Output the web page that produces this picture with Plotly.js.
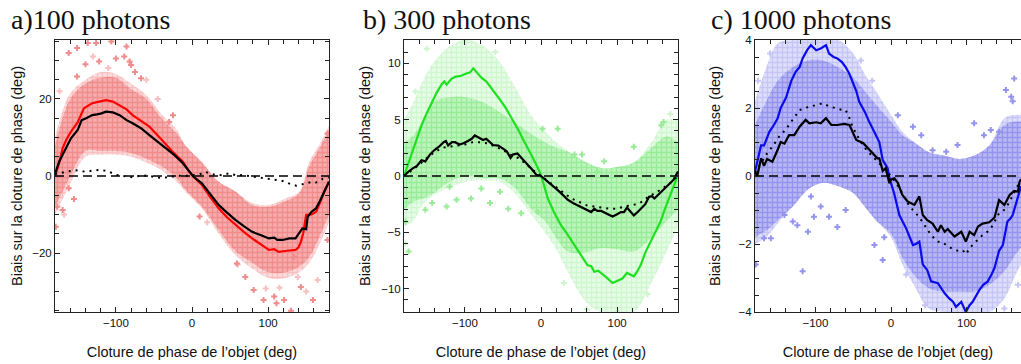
<!DOCTYPE html>
<html>
<head>
<meta charset="utf-8">
<script src="https://cdn.plot.ly/plotly-3.0.1.min.js"></script>
<style>html,body{margin:0;padding:0;background:#fff;}#chart{width:1021px;height:364px;}</style>
</head>
<body>
<div id="chart"></div>
<script>
// ---------- Panel a : 100 photons ----------
const aBandX   = [-180,-170,-160,-140,-120,-100,-80,-60,-40,-20,-9,13,35,57,79,101,123,141,154,167,180];
const aLightLo = [-10,-6,-2,5,5.5,5.5,5,3.5,1.5,-1.5,-4,-8.4,-15,-20.5,-24,-26.5,-26.5,-25,-22.5,-18,-12];
const aLightHi = [10,17,21.5,25,27,26.5,24,21,16,12,8,3.7,-1.5,-4,-7,-7.5,-5.8,-4,3.7,8,13];
const aDarkLo  = [-8,-4,0,6.5,6.5,6.5,6,4.5,2.5,-0.5,-3.5,-8,-14,-19.5,-22.5,-25,-25,-23.5,-21,-16,-10];
const aDarkHi  = [8,15,20,24,25.5,25.5,22.5,20,15,11,8,3.5,-1.5,-4,-7.5,-8,-6.5,-4.5,2.5,7,12];
const aOutX  = [-162,-151,-137,-126,-122,-106,-89,-80,-67,-151,-86,-82,-162,-177,-170,-179,59,70,81,94,108,111,121,130,143,159,178,178,134,-140,-100,-75,-30,-155,-25,10];
const aOutY  = [31.9,33.2,34.5,34.5,29.7,34.9,31,28.8,25.4,25.8,33.6,29.7,-3.2,-8,-8.8,-13.2,-22.7,-26.2,-29.6,-32.2,-31.3,-33,-32.2,-35,-28.8,-32.2,-16.6,11,-21,29,30.5,27,14,-6,15.8,-10.5];
const aOutLX = [139,97,-130,-110,165,150,115,-174,-60,-45,20,60,-168];
const aOutLY = [-26.2,-29.2,31,28,-27,-30,-29,22,25,20,-12,-23,-10];
const aRedX  = [-180,-175,-170,-165,-159,-150,-142,-131,-122,-113,-104,-95,-86,-78,-67,-56,-45,-34,-23,-12,-4,2,13,24,35,46,57,68,79,90,101,108,114,125,136,140,143,146,150,157,163,168,172,176,180];
const aRedY  = [0,3,7.2,9.5,11.5,14,17.6,18.9,19.3,19.7,19.3,18.4,17.3,15.8,14.3,12.8,10.5,8.1,5.8,3.7,1.2,-0.2,-2.3,-5.5,-8.4,-10.7,-12.7,-14.5,-16.2,-17.8,-19.2,-19,-19.7,-19.4,-19.2,-18.5,-17.1,-15,-10.1,-10,-9.3,-7,-4.9,-3,-1.5];
const aBlkX  = [-180,-175,-170,-165,-159,-150,-145,-139,-131,-125,-120,-113,-104,-95,-86,-78,-67,-56,-45,-34,-23,-12,-4,2,13,24,35,46,57,68,79,90,101,108,112,119,128,136,140,145,150,152,157,163,168,172,176,180];
const aBlkY  = [0.5,3.5,5.5,7.5,9.8,12,14.5,15,15.8,16,16.2,16.7,16.5,15.8,14.5,13.7,12.4,10.6,8.8,7.2,5.4,3.3,1.2,-0.2,-1.9,-4.6,-7.5,-9.5,-11.4,-13,-14.5,-15.3,-16.2,-16,-16.6,-16.6,-16.2,-16.2,-15,-13.6,-13.8,-10.6,-9.3,-8.4,-6.5,-4.9,-3,-1.5];
const aDotX  = [-180,-170,-160,-153,-140,-130,-120,-110,-100,-90,-80,-70,-60,-50,-40,-30,-20,-10,0,10,17,30,40,48,60,66,79,94,108,119,132,137,150,158,163,172,180];
const aDotY  = [0.5,1,1.3,1.5,1.1,1.4,1.6,1.2,0.3,0,-0.3,0,0.1,-0.2,-0.5,-0.3,0.1,0,0.2,0.4,1.1,0.3,0.2,0.7,0.1,0.26,-0.1,-0.6,-1,-1.3,-2.3,-2.5,-1.9,-1.5,-1.7,-0.7,-0.3];

// ---------- Panel b : 300 photons ----------
const bBandX   = [-180,-168,-155,-141,-120,-98,-75,-55,-35,-12,5,20,35,57,79,100,122,145,165,180];
const bLightLo = [-4.5,-4,-2.5,-1.7,-1,-0.5,-0.4,-0.5,-1.5,-3.5,-5,-6.5,-8.5,-11,-12.1,-12.1,-12.1,-9.5,-6.7,-4.5];
const bLightHi = [5,6.5,8.5,10.1,11.5,12.1,11.5,10.2,8,5.3,4,3,2.2,1.3,0.7,0.8,1.2,3,5,5];
const bDarkLo  = [-3,-2.3,-2,-1.5,-0.5,0,-0.2,-0.2,-1,-3,-4,-5.5,-6.7,-6.8,-6.4,-6.5,-6.7,-5.5,-4,-3];
const bDarkHi  = [3,3.6,5,6.6,7,7,6.5,5.7,4.8,3.7,3,2.5,2.2,1.3,0.7,0.8,1.2,2.5,3.5,3];
const bOutX  = [-174,-178,-152,-143,-124,-120,-111,-92,-78.5,-67,-54,-43,-4,161,122,83,44,54,74,2,22,158,-26];
const bOutY  = [-6.7,-4.05,-3,-2.4,-2.7,-0.95,-2.1,-2,-1.1,-2.4,-1.4,-2.9,-3.2,4.8,2.6,1.3,1.9,1.9,0.4,4.2,4.2,4.5,-3.3];
const bOutLX = [-150,-100,60,100,-178,-165,-60,170,30,140];
const bOutLY = [11.3,12,-11.8,-12,-6,7.5,11,5.5,-9.5,-10.5];
const bGrnX  = [-180,-174,-168,-162,-157,-150,-143,-137,-130,-127,-124,-118,-113,-105,-98,-93,-89,-83,-78,-72,-65,-59,-52,-46,-40,-35,-29,-24,-18,-13,-7,-2,3,9,17,26,35,44,52,61,66,70,75,79,86,94,100,107,113,118,122,127,131,137,144,150,157,163,170,175,180];
const bGrnY  = [0,1.2,2.5,3.5,4.5,5.6,6.6,7.4,8.2,8.4,8.1,8.6,8.8,8.9,9.1,9.2,9.55,9.1,8.7,8.4,7.8,7.2,6.6,6,5.3,4.7,4,3.3,2.6,1.9,1.1,0.4,-0.6,-2,-3.2,-4.35,-5.2,-6.1,-7,-7.9,-8,-8.5,-8.4,-8.6,-9,-9.5,-9.3,-9.1,-8.6,-8.8,-8.9,-8.4,-7.9,-6.8,-5.8,-4.9,-4.05,-2.9,-1.7,-0.8,0.1];
const bBlkX  = [-180,-174,-168,-163,-157,-152,-146,-140,-134,-128,-125,-122,-117,-113,-107,-102,-96,-91,-87,-82,-76,-72,-67,-63,-56,-50,-45,-40,-37,-31,-25,-19,-12,-6,0,9,15,22,29,35,42,48,56,61,66,70,74,79,86,94,100,105,109,113,118,122,127,131,137,142,146,149,155,161,167,174,180];
const bBlkY  = [0,0.4,0.7,0.9,1.4,1.3,1.9,2.3,2.6,3,3.1,2.7,3,3,2.8,2.9,3.1,3.3,3.6,3.4,3.2,3.3,3,2.75,2.7,2.45,2.2,1.6,1.9,2,1.5,1.1,0.6,0.1,0,-0.5,-0.8,-1.25,-1.7,-2.1,-2.4,-2.6,-2.9,-3.1,-3.2,-2.9,-3.1,-3.1,-3.3,-3.6,-3.4,-3.2,-3.2,-2.8,-3.2,-3.5,-3.2,-2.95,-2.5,-1.85,-1.8,-2,-1.6,-1.25,-0.8,-0.35,0.4];
const bDotX  = [-180,-170,-160,-150,-140,-130,-120,-110,-100,-90,-80,-70,-60,-50,-40,-30,-20,-10,0,10,20,30,40,50,60,70,80,90,100,110,120,130,140,150,160,170,180];
const bDotY  = [0,0.5,1,1.6,2.1,2.5,2.6,2.7,2.8,3,3,2.9,2.6,2.3,1.9,1.6,1.1,0.5,0,-0.5,-1,-1.5,-2,-2.3,-2.6,-2.7,-2.8,-2.9,-2.9,-2.7,-2.6,-2.4,-1.9,-1.5,-1.1,-0.6,0];

// ---------- Panel c : 1000 photons ----------
const cBandX   = [-180,-165,-150,-130,-110,-90,-70,-50,-35,-20,0,15,30,50,70,90,110,130,150,165,172];
const cLightLo = [-2,-1.8,-1.4,-0.9,-0.4,-0.2,-0.3,-0.5,-0.9,-1.3,-1.8,-2.6,-3.2,-3.9,-4,-4,-4,-4,-3.6,-2.9,-2.6];
const cLightHi = [2.2,3.2,3.9,4,4,4,4,3.6,3,2.5,1.8,1.3,1,0.7,0.6,0.5,0.6,0.9,1.7,1.8,1.8];
const cDarkLo  = [-1.8,-1.6,-1.3,-0.9,-0.4,-0.2,-0.3,-0.5,-0.9,-1.3,-1.7,-2.4,-2.9,-3.3,-3.4,-3.4,-3.4,-3.2,-2.8,-2.3,-2.1];
const cDarkHi  = [1.5,2.2,2.8,3.2,3.4,3.4,3.2,2.9,2.5,2.1,1.6,1.2,1,0.7,0.6,0.5,0.6,0.9,1.5,1.6,1.6];
const cOutX  = [-117,-110,-102,-93,-82,-71,-130,-124,-141,-22,-11,-9,-159,-168,-179,163,152,161,110,123,132,88,73,29,9,40,55,159,143,-60,-106];
const cOutY  = [-2.8,-1.64,-1.2,-0.9,-1.2,-1.5,-1.34,-1.45,-1.15,-2.03,-2.47,-1.8,-1.83,-1.83,-2.6,2.87,2.53,2.2,1.55,1.2,1.35,0.91,0.71,1.45,1.79,1.2,0.76,2.33,1.3,-1,-0.6];
const cOutLX = [-176,-160,-40,-25,20,45,150,168];
const cOutLY = [2.8,3.6,3.4,2.8,-2.9,-3.8,-3.9,-3.2];
const cBluX  = [-180,-176,-172,-168,-161,-155,-150,-146,-139,-132,-126,-121,-117,-111,-106,-99,-93,-86,-82,-76,-71,-65,-60,-55,-51,-46,-42,-35,-29,-20,-15.5,-11,-4.5,-2,4,11,20,29,33,37.5,42,48,53,62,66,71,77,82,86,90,93,99,104,108,113,117,122,128,133,137,143,148,154,158,161,166,170,172];
const cBluY  = [0.13,0.5,0.9,0.9,1.3,1.5,1.7,2,2.3,2.8,3.07,3.2,3.46,3.7,3.85,3.7,3.75,3.85,3.6,3.5,3.46,3.35,3.2,3,2.77,2.5,2.18,1.9,1.6,1.2,1,0.47,0.23,-0.07,-0.5,-1.15,-1.54,-2.03,-2,-1.93,-2.6,-2.77,-3.1,-3.15,-3.3,-3.45,-3.6,-3.7,-3.85,-3.75,-3.7,-4,-3.8,-3.7,-3.5,-3.35,-3.2,-3.1,-2.9,-2.7,-2.2,-2.03,-1.34,-1.25,-1.15,-0.8,-0.46,-0.3];
const cBlkX  = [-180,-177,-172,-168,-164,-157,-150,-146,-141,-135,-128,-121,-113,-108,-99,-93,-86,-79,-71,-62,-55,-46,-37,-29,-18,-15.5,-11,-7,-2.2,0,4.4,9,15,22,31,37.5,42,48,55,62,66,71,75,84,93,99,104,110,115,121,130,137,143,150,157,163,168,170,172];
const cBlkY  = [0.13,0,0.52,0.3,0.5,0.42,0.77,1,0.95,1.2,1.2,1.45,1.65,1.55,1.58,1.55,1.7,1.5,1.5,1.53,1.5,1.06,0.97,0.77,0.52,0.52,0.15,0.23,-0.21,-0.1,-0.07,-0.2,-0.56,-0.75,-0.85,-0.6,-1.15,-1.3,-1.4,-1.64,-1.45,-1.64,-1.56,-1.78,-1.64,-1.93,-1.64,-1.74,-1.49,-1.4,-1.36,-1.22,-0.71,-0.85,-0.56,-0.44,-0.46,-0.17,-0.1];
const cDotX  = [-180,-170,-163,-157,-148,-140,-135,-128,-121,-114,-108,-99,-90,-82,-73,-66,-60,-55,-51,-45,-40,-32,-24,-16,-8,0,8,16,22,29,35,42,48,53,62,68,73,78,84,90,95,99,105,110,116,121,127,132,137,141,147,152,157,161,165,168,172];
const cDotY  = [0.1,0.47,0.7,0.86,1.16,1.35,1.5,1.7,1.94,2,2.04,2.1,2.14,2.05,1.99,1.95,1.94,1.7,1.45,1.2,1,0.75,0.57,0.4,0.2,0,-0.25,-0.55,-0.8,-1,-1.15,-1.36,-1.55,-1.74,-1.93,-1.95,-2.03,-2.1,-2.18,-2.2,-2.18,-2.3,-2.1,-1.98,-1.85,-1.74,-1.65,-1.54,-1.35,-1.15,-1.05,-0.95,-0.75,-0.56,-0.4,-0.27,-0.1];

// ---------- labels ----------
const panelTitles = ['a)100 photons', 'b) 300 photons', 'c) 1000 photons'];
const xTitle = 'Cloture de phase de l’objet (deg)';
const yTitle = 'Biais sur la cloture de phase (deg)';

const W = 1021, H = 364;
const panels = [
  {ax:'',  bandX:aBandX, lLo:aLightLo, lHi:aLightHi, dLo:aDarkLo, dHi:aDarkHi, outX:aOutX, outY:aOutY, outLX:aOutLX, outLY:aOutLY,
   colX:aRedX, colY:aRedY, blkX:aBlkX, blkY:aBlkY, dotX:aDotX, dotY:aDotY,
   light:'#fcdcdc', lightFg:'#f8c0c0', dark:'#f6acac', darkFg:'#f08c8c', line:'#ff0000', xEnd:180},
  {ax:'2', bandX:bBandX, lLo:bLightLo, lHi:bLightHi, dLo:bDarkLo, dHi:bDarkHi, outX:bOutX, outY:bOutY, outLX:bOutLX, outLY:bOutLY,
   colX:bGrnX, colY:bGrnY, blkX:bBlkX, blkY:bBlkY, dotX:bDotX, dotY:bDotY,
   light:'#e8fbe8', lightFg:'#cef7ce', dark:'#bff4bf', darkFg:'#98ec98', line:'#1ee01e', xEnd:180},
  {ax:'3', bandX:cBandX, lLo:cLightLo, lHi:cLightHi, dLo:cDarkLo, dHi:cDarkHi, outX:cOutX, outY:cOutY, outLX:cOutLX, outLY:cOutLY,
   colX:cBluX, colY:cBluY, blkX:cBlkX, blkY:cBlkY, dotX:cDotX, dotY:cDotY,
   light:'#dedefa', lightFg:'#c6c6f6', dark:'#b8b8f4', darkFg:'#9494ee', line:'#0a0aee', xEnd:172}
];

const traces = [];
panels.forEach(p => {
  const xa = 'x' + p.ax, ya = 'y' + p.ax;
  const base = {xaxis: xa, yaxis: ya, showlegend: false, hoverinfo: 'skip'};
  // light cloud band
  traces.push(Object.assign({}, base, {x: p.bandX, y: p.lLo, mode: 'lines', line: {width: 0, shape: 'spline'}}));
  traces.push(Object.assign({}, base, {x: p.bandX, y: p.lHi, mode: 'lines', line: {width: 0, shape: 'spline'}, fill: 'tonexty',
    fillcolor: p.light, fillpattern: {shape: '+', fgcolor: p.lightFg, bgcolor: p.light, size: 5, solidity: 0.45}}));
  // dark cloud band
  traces.push(Object.assign({}, base, {x: p.bandX, y: p.dLo, mode: 'lines', line: {width: 0, shape: 'spline'}}));
  traces.push(Object.assign({}, base, {x: p.bandX, y: p.dHi, mode: 'lines', line: {width: 0, shape: 'spline'}, fill: 'tonexty',
    fillcolor: p.dark, fillpattern: {shape: '+', fgcolor: p.darkFg, bgcolor: p.dark, size: 5, solidity: 0.45}}));
  // outlier points
  traces.push(Object.assign({}, base, {x: p.outLX, y: p.outLY, mode: 'markers', marker: {symbol: 'cross', size: 5, color: p.lightFg, line: {width: 0}}}));
  traces.push(Object.assign({}, base, {x: p.outX, y: p.outY, mode: 'markers', marker: {symbol: 'cross', size: 5, color: p.darkFg, line: {width: 0}}}));
  // coloured curve, black curve, dotted curve, zero line
  traces.push(Object.assign({}, base, {x: p.colX, y: p.colY, mode: 'lines', line: {color: p.line, width: 2.2}}));
  traces.push(Object.assign({}, base, {x: p.blkX, y: p.blkY, mode: 'lines', line: {color: '#000', width: 2.2}}));
  traces.push(Object.assign({}, base, {x: p.dotX, y: p.dotY, mode: 'lines', line: {color: '#000', width: 2, dash: '2px,5px'}}));
  traces.push(Object.assign({}, base, {x: [-180, p.xEnd], y: [0, 0], mode: 'lines', line: {color: '#000', width: 1.6, dash: '9px,5px'}}));
});

const tickFont = {family: 'Liberation Sans, Arial, sans-serif', size: 11.5, color: '#111'};
const titleFont = {family: 'Liberation Sans, Arial, sans-serif', size: 14.5, color: '#111'};
function xAxis(l, r, range, anchor) {
  return {domain: [l / W, r / W], range: range, anchor: anchor, showline: true, linecolor: '#222', linewidth: 1,
    mirror: 'allticks', ticks: 'inside', ticklen: 5, tickcolor: '#222', tick0: 0, dtick: 100,
    minor: {ticks: 'inside', ticklen: 4, dtick: 20, tick0: 0, tickcolor: '#222'},
    showgrid: false, zeroline: false, tickfont: tickFont, fixedrange: true,
    title: {text: xTitle, font: titleFont, standoff: 19}};
}
function yAxis(range, dtick, minorDt, anchor, mirror, standoff) {
  return {domain: [52 / H, 324 / H], range: range, anchor: anchor, showline: true, linecolor: '#222', linewidth: 1,
    mirror: mirror, ticks: 'inside', ticklen: 5, tickcolor: '#222', tick0: 0, dtick: dtick,
    minor: {ticks: 'inside', ticklen: 4, dtick: minorDt, tick0: 0, tickcolor: '#222'},
    showgrid: false, zeroline: false, tickfont: tickFont, fixedrange: true,
    title: {text: yTitle, font: titleFont, standoff: standoff}};
}

const layout = {
  width: W, height: H, margin: {l: 0, r: 0, t: 0, b: 0}, paper_bgcolor: '#fff', plot_bgcolor: '#fff', showlegend: false,
  xaxis:  xAxis(55, 329, [-180, 180], 'y'),
  yaxis:  yAxis([-35.3, 35.3], 20, 5, 'x', 'allticks', 6),
  xaxis2: xAxis(404, 678, [-180, 180], 'y2'),
  yaxis2: yAxis([-12.07, 12.07], 5, 1, 'x2', 'allticks', 7),
  xaxis3: xAxis(755, 1021, [-180, 172], 'y3'),
  yaxis3: yAxis([-4, 4], 2, 0.5, 'x3', false, 14),
  annotations: [
    {text: panelTitles[0], x: 9 / W, y: 1 - 19 / H},
    {text: panelTitles[1], x: 361 / W, y: 1 - 19 / H},
    {text: panelTitles[2], x: 709 / W, y: 1 - 19 / H}
  ].map(a => Object.assign(a, {xref: 'paper', yref: 'paper', xanchor: 'left', yanchor: 'middle', showarrow: false,
    font: {family: 'Liberation Serif, Times New Roman, serif', size: 28, color: '#111'}}))
};

Plotly.newPlot('chart', traces, layout, {displayModeBar: false, staticPlot: true});
</script>
</body>
</html>
